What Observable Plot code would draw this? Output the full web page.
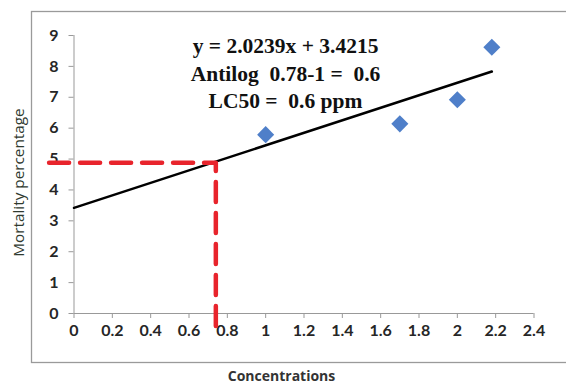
<!DOCTYPE html>
<html>
<head>
<meta charset="utf-8">
<script src="https://cdn.jsdelivr.net/npm/d3@7"></script>
<script src="https://cdn.jsdelivr.net/npm/@observablehq/plot@0.6"></script>
<style>
html,body{margin:0;padding:0;background:#fff;}
</style>
</head>
<body>
<div id="chart"></div>
<script>
const concentrations = [1, 1.7, 2.0, 2.18];
const mortality = [5.79, 6.14, 6.92, 8.62];
const slope = 2.0239, intercept = 3.4215;
const trendX = [0, 2.18];
const lc50X = 0.74, lc50Y = 4.88;
const dashX = [-0.13, lc50X, lc50X];
const dashY = [lc50Y, lc50Y, -0.66];
const xTicks = [0,0.2,0.4,0.6,0.8,1,1.2,1.4,1.6,1.8,2,2.2,2.4];
const yTicks = [0,1,2,3,4,5,6,7,8,9];
const annotation = ["y = 2.0239x + 3.4215", "Antilog  0.78-1 =  0.6", "LC50 =  0.6 ppm"];
const xLabel = "Concentrations";
const yLabel = "Mortality percentage";

const points = concentrations.map((c,i)=>({x:c, y:mortality[i]}));
const trend = trendX.map(x=>({x, y: slope*x + intercept}));
const dash = dashX.map((x,i)=>({x, y: dashY[i]}));

const plot = Plot.plot({
  width: 566, height: 387,
  marginLeft: 73.5, marginRight: 32.5, marginTop: 35, marginBottom: 74,
  style: {fontFamily: "'Open Sans', sans-serif", background: "#fff", overflow: "visible"},
  x: {domain: [0, 2.4]},
  y: {domain: [0, 9]},
  marks: [
    Plot.frame({stroke: "#9a9a9a", strokeWidth: 1.3, insetLeft: -42.5, insetTop: -24, insetBottom: -49, insetRight: -60}),
    Plot.ruleX([0], {stroke: "#999", strokeWidth: 1}),
    Plot.ruleY([0], {stroke: "#999", strokeWidth: 1}),
    Plot.axisX({ticks: xTicks, tickSize: 5, stroke: "#999", label: null, tickFormat: () => ""}),
    Plot.axisY({ticks: yTicks, tickSize: 5, stroke: "#999", label: null, tickFormat: () => ""}),
    Plot.text(xTicks, {x: d => d, frameAnchor: "bottom", dy: 22, text: d => String(d), fontSize: 16, fontWeight: "bold", fontFamily: "Lato, sans-serif", fill: "#262626"}),
    Plot.text(yTicks, {y: d => d, frameAnchor: "left", textAnchor: "end", dx: -15.5, text: d => String(d), fontSize: 16, fontWeight: "bold", fontFamily: "Lato, sans-serif", fill: "#262626"}),
    Plot.line(trend, {x: "x", y: "y", stroke: "#000", strokeWidth: 2.5}),
    Plot.line(dash, {x: "x", y: "y", stroke: "#e8242c", strokeWidth: 4.5, strokeDasharray: "20,11", clip: false}),
    Plot.dot(points, {x: "x", y: "y", symbol: "diamond2", r: 7.7, fill: "#4f7fc9", stroke: "none"}),
    Plot.text([annotation.join("\n")], {frameAnchor: "top", dx: -18.5, dy: -2, lineHeight: 1.28, fontSize: 21.5, fontWeight: "bold", fontFamily: "'Liberation Serif', 'Times New Roman', serif", fill: "#111", lineAnchor: "top"}),
    Plot.text([xLabel], {frameAnchor: "bottom", dx: -22.5, dy: 67, fontSize: 14, fontWeight: "bold", fill: "#333"}),
    Plot.text([yLabel], {frameAnchor: "left", textAnchor: "middle", dx: -54.5, dy: 8, rotate: -90, fontSize: 15.3, fill: "#2f3a2f"})
  ]
});
document.getElementById("chart").appendChild(plot);
</script>
</body>
</html>
